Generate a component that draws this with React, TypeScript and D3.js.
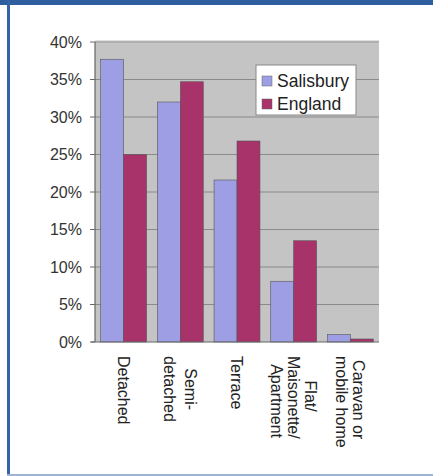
import React from "react";
import * as d3 from "d3";

const categories: string[][] = [
  ["Detached"],
  ["Semi-", "detached"],
  ["Terrace"],
  ["Flat/", "Maisonette/", "Apartment"],
  ["Caravan or", "mobile home"],
];
const seriesNames = ["Salisbury", "England"];
const salisbury = [37.7, 32.0, 21.6, 8.1, 1.0];
const england = [25.0, 34.7, 26.8, 13.5, 0.4];
const yTicks = [0, 5, 10, 15, 20, 25, 30, 35, 40];
const colors = ["#9e9ee4", "#a8336b"];

export default function App() {
  const W = 433;
  const H = 476;
  const left = 95;
  const right = 379;
  const top = 42;
  const bottom = 342;
  const x = d3
    .scaleBand<number>()
    .domain(categories.map((_, i) => i))
    .range([left, right])
    .paddingInner(0.19)
    .paddingOuter(0.1);
  const y = d3.scaleLinear().domain([0, 40]).range([bottom, top]);
  const bw = x.bandwidth() / 2;
  const series = [salisbury, england];
  const font = "Arial, 'Liberation Sans', sans-serif";

  return (
    <svg
      width={W}
      height={H}
      style={{ position: "absolute", left: 0, top: 0, display: "block" }}
    >
      <rect x={0} y={0} width={W} height={H} fill="#ffffff" />
      {/* frame */}
      <rect x={0} y={0} width={W} height={5} fill="#2f5e9e" />
      <rect x={7} y={0} width={3} height={H} fill="#3464a4" />
      <rect x={7} y={H - 2} width={W - 7} height={2} fill="#9fb4d4" />

      <defs>
        <linearGradient id="topfade" x1="0" y1="0" x2="0" y2="1">
          <stop offset="0" stopColor="#e4e4e4" />
          <stop offset="1" stopColor="#c4c4c4" />
        </linearGradient>
      </defs>
      {/* plot area */}
      <rect x={left} y={top - 2} width={right - left} height={bottom - top + 2} fill="#c4c4c4" />
      <rect x={left} y={top - 2} width={right - left} height={4} fill="url(#topfade)" />
      {yTicks.slice(1).map((t) => (
        <line
          key={t}
          x1={left}
          x2={right}
          y1={y(t)}
          y2={y(t)}
          stroke="#8a8a8a"
          strokeWidth={1}
        />
      ))}

      {/* bars */}
      {series.map((vals, s) =>
        vals.map((v, i) => (
          <rect
            key={`${s}-${i}`}
            x={(x(i) as number) + s * bw}
            y={y(v)}
            width={bw}
            height={bottom - y(v)}
            fill={colors[s]}
            stroke="#555"
            strokeWidth={0.6}
          />
        ))
      )}

      {/* axes */}
      <line x1={left} x2={left} y1={top} y2={bottom} stroke="#666" strokeWidth={1.2} />
      <line x1={left - 4} x2={right} y1={bottom} y2={bottom} stroke="#666" strokeWidth={1.2} />
      {yTicks.map((t) => (
        <g key={t}>
          <line x1={left - 5} x2={left} y1={y(t)} y2={y(t)} stroke="#666" strokeWidth={1} />
          <text
            x={left - 13}
            y={y(t)}
            dy="0.35em"
            textAnchor="end"
            fontFamily={font}
            fontSize={16}
            fill="#333"
          >
            {`${t}%`}
          </text>
        </g>
      ))}

      {/* category labels, rotated */}
      {categories.map((lines, i) => {
        const cx = (x(i) as number) + x.bandwidth() / 2;
        const n = lines.length;
        const spacing = n === 2 && i === 1 ? 21 : 17;
        const maxLen = d3.max(lines, (l) => l.length) as number;
        return (
          <g key={i}>
            {lines.map((l, j) => {
              const off = (j - (n - 1) / 2) * spacing;
              const lx = cx - off;
              const startY = 356 + ((maxLen - l.length) * 8.2) / 2;
              return (
                <text
                  key={j}
                  transform={`translate(${lx},${startY}) rotate(90)`}
                  dy="0.35em"
                  textAnchor="start"
                  fontFamily={font}
                  fontSize={16}
                  fill="#222"
                >
                  {l}
                </text>
              );
            })}
          </g>
        );
      })}

      {/* legend */}
      <rect x={256} y={65} width={100} height={50} fill="#ffffff" stroke="#888" strokeWidth={1} />
      {seriesNames.map((n, i) => (
        <g key={n}>
          <rect
            x={262}
            y={76 + i * 23}
            width={10}
            height={10}
            fill={colors[i]}
            stroke="#666"
            strokeWidth={0.5}
          />
          <text
            x={277}
            y={81 + i * 23}
            dy="0.36em"
            fontFamily={font}
            fontSize={17.5}
            fill="#222"
          >
            {n}
          </text>
        </g>
      ))}
    </svg>
  );
}
